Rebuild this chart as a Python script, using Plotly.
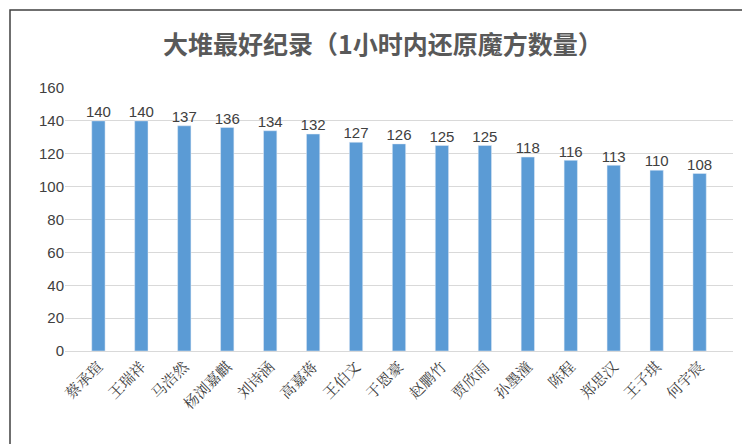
import plotly.graph_objects as go

names = ["蔡承瑄", "王瑞祥", "马浩然", "杨浏嘉麒", "刘诗涵", "高嘉蒋", "王伯文", "于恩豪",
         "赵鹏竹", "贾欣雨", "孙墨潼", "陈程", "郑思汉", "王子琪", "何宇宸"]
counts = [140, 140, 137, 136, 134, 132, 127, 126, 125, 125, 118, 116, 113, 110, 108]
yticks = [0, 20, 40, 60, 80, 100, 120, 140, 160]

fig = go.Figure()
fig.add_trace(go.Bar(x=names, y=counts, marker_color="#5B9BD5", width=0.31,
                     hoverinfo="x+y"))
# value labels above bars
fig.add_trace(go.Scatter(x=names, y=counts, mode="text", text=[str(c) for c in counts],
                         textposition="top center", cliponaxis=False, hoverinfo="skip",
                         textfont=dict(size=15, color="#404040", family="Liberation Sans")))

L, R, T, B = 57, 25, 80, 101
pw, ph = 750 - L - R, 444 - T - B
fig.update_layout(
    width=750, height=444, showlegend=False,
    paper_bgcolor="white", plot_bgcolor="white",
    margin=dict(l=L, r=R, t=T, b=B),
    title=dict(text="<b>大堆最好纪录（1小时内还原魔方数量）</b>", x=0.5, y=0.915,
               xanchor="center", yanchor="middle",
               font=dict(size=25, color="#595959", family="Noto Sans CJK SC")),
    shapes=[dict(type="rect", xref="paper", yref="paper",
                 x0=(2 - L) / pw, x1=(747 - L) / pw,
                 y0=-(441 - T - ph) / ph, y1=(T - 2 + ph) / ph - 0,
                 line=dict(color="#404040", width=1.5))],
)
fig.update_yaxes(range=[0, 160], tickvals=yticks, gridcolor="#D9D9D9", zeroline=False,
                 tickfont=dict(size=15, color="#404040", family="Liberation Sans"))
fig.update_xaxes(tickangle=-45, showline=True, linecolor="#D9D9D9",
                 tickfont=dict(size=15, color="#404040", family="Noto Serif CJK SC, serif"))
fig.write_html("out.html")
